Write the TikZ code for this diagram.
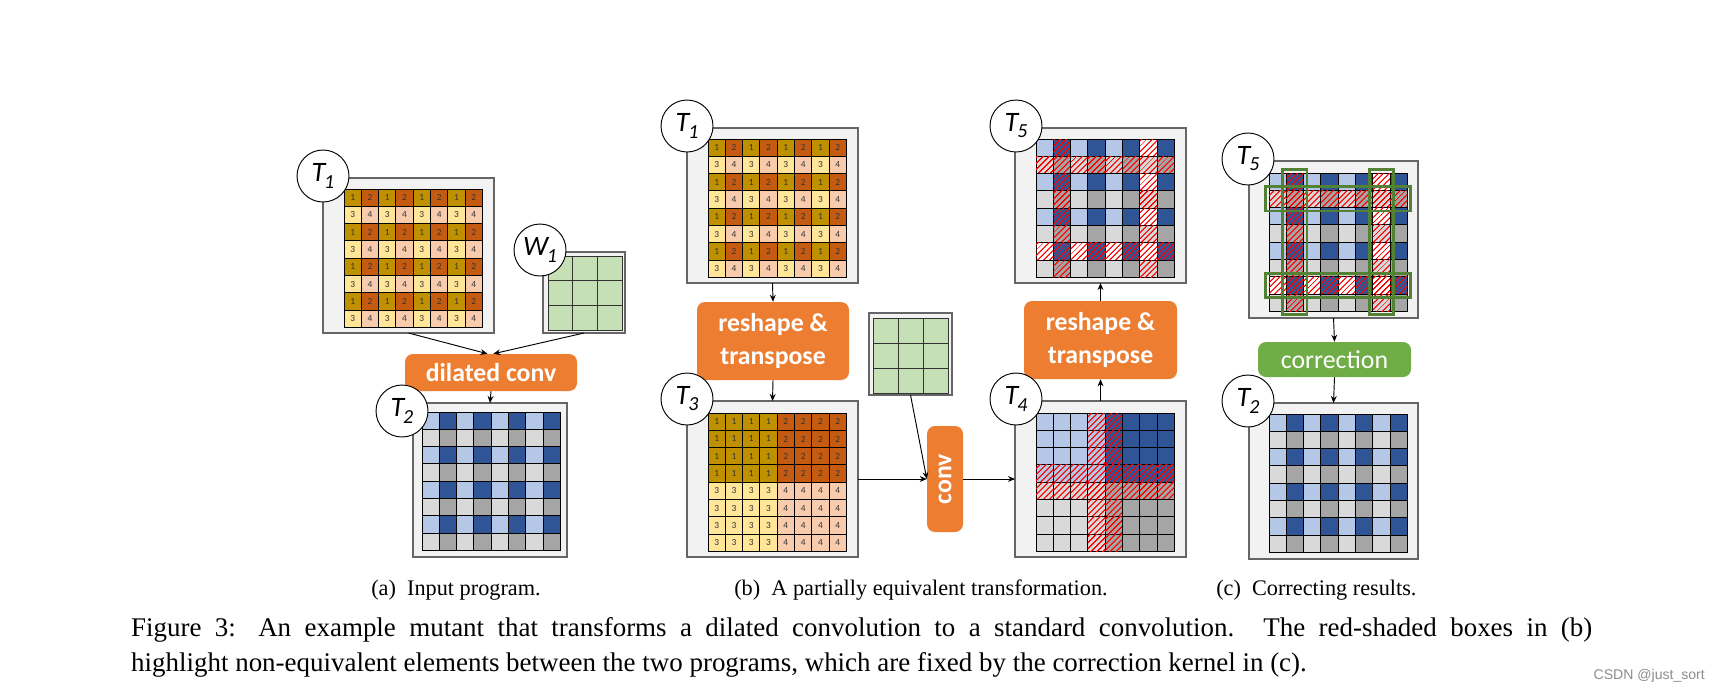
\documentclass[tikz,border=0pt]{standalone}
\usepackage{fontspec}
\setmainfont{Liberation Serif}
\newfontfamily\carl{Carlito}
\newfontfamily\wmfont{Liberation Sans}
\usetikzlibrary{arrows.meta,patterns.meta}

\definecolor{n1}{HTML}{BF9000}
\definecolor{n2}{HTML}{C55A11}
\definecolor{n3}{HTML}{FFE699}
\definecolor{n4}{HTML}{F8CBAD}
\definecolor{b1}{HTML}{B4C7E7}
\definecolor{b2}{HTML}{2F5597}
\definecolor{b3}{HTML}{D9D9D9}
\definecolor{b4}{HTML}{A5A5A5}
\definecolor{wgreen}{HTML}{C5E0B4}
\definecolor{opbox}{HTML}{ED7D31}
\definecolor{corbox}{HTML}{70AD47}
\definecolor{gline}{HTML}{548235}
\definecolor{frfill}{HTML}{F2F2F2}

\tikzset{
  frame/.style={draw=black!60,fill=frfill,line width=1.1pt,inner sep=0pt,outer sep=0pt},
  numcell/.style={draw=black,line width=0.8pt,minimum size={17.3*0.03cm},inner sep=0pt,
    font=\carl\fontsize{8pt}{8pt}\selectfont,text=black!80},
  colcell/.style={draw=black,line width=0.8pt,minimum size={17.3*0.03cm},inner sep=0pt},
  wcell/.style={draw=black!80,line width=0.8pt,fill=wgreen,inner sep=0pt},
  hatched/.style={postaction={pattern={Lines[angle=45,distance=4pt,line width=1.4pt]},pattern color=red}},
  lab/.style={circle,draw=black,fill=white,line width=0.8pt,minimum size={52*0.03cm},inner sep=0pt,
    font=\carl\itshape\fontsize{24pt}{24pt}\selectfont},
  op/.style={fill=opbox,rounded corners=0.24cm,text=white,inner sep=0pt,
    font=\carl\bfseries\fontsize{22pt}{28pt}\selectfont,align=center},
  arr/.style={-{Stealth[length=6pt,width=5pt]},line width=0.8pt},
  gbox/.style={draw=gline,line width=2.4pt}
}

% frame node from (x1,y1) to (x2,y2) in pixels
\newcommand\frm[5]{\node[frame,minimum width={(#4-#2)*0.03cm},minimum height={(#5-#3)*0.03cm}]
  (#1) at ({(#2+#4)/2},{(#3+#5)/2}) {};}
% numbered 8x8 grid: name, x0, y0, block layout (1) or periodic (0)
\newcommand\numgrid[4]{\foreach \r in {0,...,7}{\foreach \c in {0,...,7}{
  \pgfmathtruncatemacro\k{#4*(1+(\c>3)+2*(\r>3))+(1-#4)*(1+mod(\c,2)+2*mod(\r,2))}
  \node[numcell,fill=n\k] (#1-\r-\c) at ({#2+(\c+0.5)*17.3},{#3+(\r+0.5)*17.3}) {\k};}}}
% coloured 8x8 grid: name, x0, y0, layout, hatch (0 none, 1 block, 2 periodic)
\newcommand\colgrid[5]{\foreach \r in {0,...,7}{\foreach \c in {0,...,7}{
  \pgfmathtruncatemacro\k{#4*(1+(\c>3)+2*(\r>3))+(1-#4)*(1+mod(\c,2)+2*mod(\r,2))}
  \pgfmathtruncatemacro\h{(#5==1)*((\r==3)||(\r==4)||(\c==3)||(\c==4))+(#5==2)*((\r==1)||(\r==6)||(\c==1)||(\c==6))}
  \pgfmathtruncatemacro\w{\h*(\k==1)*(#5==2)}
  \def\fc{b\k}\ifnum\w=1 \def\fc{white}\fi
  \def\hs{}\ifnum\h=1 \def\hs{hatched}\fi
  \node[colcell,fill=\fc,\hs] (#1-\r-\c) at ({#2+(\c+0.5)*17.3},{#3+(\r+0.5)*17.3}) {};}}}
% 3x3 weight grid: name, x0, y0, cell
\newcommand\wgrid[4]{\foreach \r in {0,1,2}{\foreach \c in {0,1,2}{
  \node[wcell,minimum size={#4*0.03cm}] (#1-\r-\c) at ({#2+(\c+0.5)*#4},{#3+(\r+0.5)*#4}) {};}}}
\newcommand\tl[2]{#1\kern-0.04em\raisebox{-0.45ex}{\fontsize{17pt}{17pt}\selectfont #2}}

\begin{document}
\begin{tikzpicture}[x=0.03cm,y=-0.03cm]
\useasboundingbox (0,0) rectangle (1721,692);

%% (a) input program
\frm{t1a}{323}{178}{494}{333}
\numgrid{g1a}{344}{189}{0}
\frm{w1}{543}{252}{625}{333}
\wgrid{gw1}{548}{256}{24.7}
\node[op,minimum width={172*0.03cm},minimum height={37*0.03cm}] (dil) at (491,372.5) {dilated conv};
\frm{t2a}{413}{403}{567}{557}
\colgrid{g2a}{422}{412}{0}{0}
\draw[arr] (t1a.south) -- ([xshift=-3]dil.north);
\draw[arr] (w1.south) -- ([xshift=2]dil.north);
\draw[arr] (dil.south) -- (t2a.north);

%% (b) partially equivalent transformation
\frm{t1b}{687}{128}{858}{283}
\numgrid{g1b}{708}{139}{0}
\node[op,minimum width={152*0.03cm},minimum height={78*0.03cm}] (rs1) at (773,341) {reshape \&\\transpose};
\frm{t3}{687}{401}{858}{557}
\numgrid{g3}{708}{413}{1}
\frm{wb}{869}{313}{952}{395}
\wgrid{gwb}{873}{318}{25}
\node[op,minimum width={36*0.03cm},minimum height={106*0.03cm}] (conv) at (945,479) {\rotatebox{90}{conv}};
\frm{t4}{1015}{401}{1186}{557}
\colgrid{g4}{1036}{413}{1}{1}
\node[op,minimum width={153*0.03cm},minimum height={78*0.03cm}] (rs2) at (1100.5,340) {reshape \&\\transpose};
\frm{t5b}{1015}{128}{1186}{283}
\colgrid{g5b}{1036}{139}{0}{2}
\draw[arr] (t1b.south) -- (rs1.north);
\draw[arr] (rs1.south) -- (t3.north);
\draw[arr] (t3.east) -- (conv.west);
\draw[arr] (wb.south) -- (conv.west);
\draw[arr] (conv.east) -- (t4.west);
\draw[arr] (t4.north) -- (rs2.south);
\draw[arr] (rs2.north) -- (t5b.south);

%% (c) correcting results
\frm{t5c}{1249}{161}{1418}{318}
\colgrid{g5c}{1269}{173}{0}{2}
\draw[gbox] ([shift={(-3,-3)}]g5c-0-1.north west) rectangle ([shift={(3,3)}]g5c-7-1.south east);
\draw[gbox] ([shift={(-3,-3)}]g5c-0-6.north west) rectangle ([shift={(3,3)}]g5c-7-6.south east);
\draw[gbox] ([shift={(-3,-3)}]g5c-1-0.north west) rectangle ([shift={(3,3)}]g5c-1-7.south east);
\draw[gbox] ([shift={(-3,-3)}]g5c-6-0.north west) rectangle ([shift={(3,3)}]g5c-6-7.south east);
\node[op,fill=corbox,font=\carl\fontsize{22pt}{28pt}\selectfont,minimum width={153*0.03cm},minimum height={35*0.03cm}] (cor) at (1334.5,359.5) {correction};
\frm{t2c}{1249}{403}{1418}{559}
\colgrid{g2c}{1269}{414}{0}{0}
\draw[arr] (t5c.south) -- (cor.north);
\draw[arr] (cor.south) -- (t2c.north);

%% tensor labels
\node[lab] (l1a) at (323,176) {\tl{T}{1}};
\node[lab] (lw1) at (540,250) {\tl{W}{1}};
\node[lab] (l2a) at (402,411) {\tl{T}{2}};
\node[lab] (l1b) at (687,126) {\tl{T}{1}};
\node[lab] (l3) at (687,399) {\tl{T}{3}};
\node[lab] (l4) at (1016,399) {\tl{T}{4}};
\node[lab] (l5b) at (1016,126) {\tl{T}{5}};
\node[lab] (l5c) at (1248,159) {\tl{T}{5}};
\node[lab] (l2c) at (1248,401) {\tl{T}{2}};

%% captions
\tikzset{sub/.style={anchor=base,inner sep=0pt,font=\fontsize{19pt}{23pt}\selectfont}}
\node[sub] (ca) at (456,595) {(a)\enspace Input program.};
\node[sub] (cb) at (921,595) {(b)\enspace A partially equivalent transformation.};
\node[sub,anchor=base west] (cc) at (1216,595) {(c)\enspace Correcting results.};
\node[anchor=north west,inner sep=0pt,text width={1461*0.03cm},align=justify,
  font=\fontsize{23pt}{29.8pt}\selectfont] (cap) at (131,617)
  {Figure 3: An example mutant that transforms a dilated convolution to a standard convolution. The red-shaded boxes in (b)\linebreak highlight non-equivalent elements between the two programs, which are fixed by the correction kernel in (c).};
\node[anchor=base east,inner sep=0pt,text=black!45,font=\wmfont\fontsize{12pt}{12pt}\selectfont] (wm) at (1705,679) {CSDN @just\_sort};
\end{tikzpicture}
\end{document}
